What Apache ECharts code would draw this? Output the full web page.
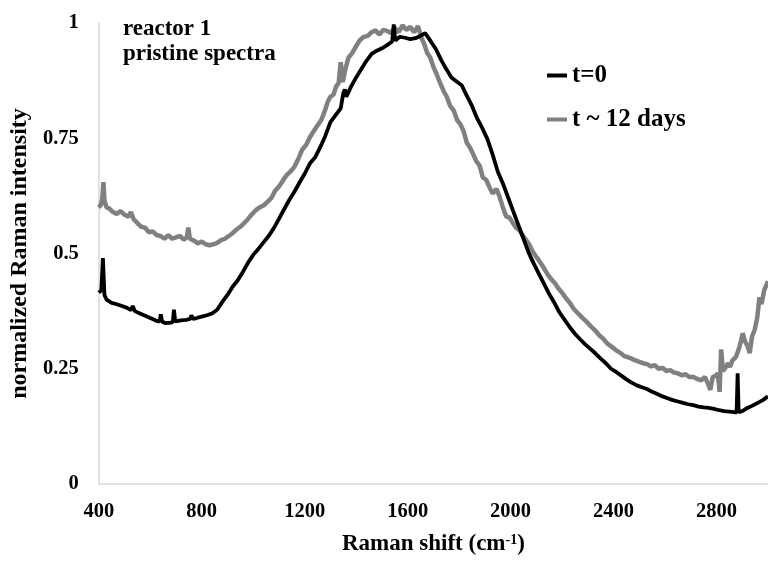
<!DOCTYPE html>
<html>
<head>
<meta charset="utf-8">
<script src="https://cdn.jsdelivr.net/npm/echarts@6/dist/echarts.min.js"></script>
<style>
html,body{margin:0;padding:0;background:#fff;}
#chart{width:768px;height:561px;}
</style>
</head>
<body>
<div id="chart"></div>
<script>
// ---- data ----
var seriesNames = ['t=0', 't ~ 12 days'];
var xTicks = [400, 800, 1200, 1600, 2000, 2400, 2800];
var yTicks = [0, 0.25, 0.5, 0.75, 1];

var t0Shift = [400,410,416,422,430,450,470,490,510,525,532,540,560,580,600,620,636,641,646,660,680,688,692,697,720,740,755,760,766,780,800,820,840,860,880,900,920,940,960,980,1000,1020,1040,1060,1080,1100,1120,1140,1160,1180,1200,1220,1240,1260,1280,1300,1320,1340,1350,1356,1362,1380,1400,1420,1440,1460,1480,1500,1520,1540,1546,1552,1570,1590,1610,1630,1650,1668,1690,1710,1730,1750,1770,1790,1810,1830,1850,1870,1890,1910,1930,1950,1970,1990,2010,2030,2050,2070,2090,2110,2130,2150,2170,2190,2210,2230,2250,2270,2290,2310,2330,2350,2370,2390,2410,2430,2450,2470,2490,2510,2530,2550,2570,2590,2610,2630,2650,2670,2690,2710,2730,2750,2770,2790,2810,2830,2850,2870,2878,2882,2886,2900,2920,2940,2960,2980,3000];
var t0Int = [0.415,0.42,0.49,0.41,0.40,0.393,0.39,0.386,0.382,0.377,0.386,0.375,0.37,0.365,0.36,0.355,0.352,0.368,0.352,0.349,0.35,0.352,0.378,0.353,0.355,0.356,0.358,0.366,0.358,0.36,0.363,0.366,0.37,0.378,0.395,0.41,0.428,0.442,0.46,0.48,0.497,0.51,0.524,0.538,0.555,0.575,0.596,0.616,0.634,0.654,0.673,0.695,0.708,0.73,0.755,0.785,0.80,0.815,0.848,0.856,0.84,0.862,0.882,0.90,0.918,0.933,0.94,0.945,0.952,0.96,0.997,0.962,0.97,0.968,0.965,0.967,0.972,0.978,0.96,0.943,0.92,0.90,0.882,0.873,0.865,0.842,0.82,0.793,0.772,0.748,0.715,0.678,0.652,0.622,0.592,0.562,0.532,0.502,0.478,0.456,0.434,0.412,0.393,0.372,0.356,0.34,0.326,0.314,0.303,0.293,0.283,0.272,0.262,0.25,0.243,0.235,0.227,0.22,0.214,0.21,0.206,0.20,0.195,0.19,0.186,0.182,0.179,0.176,0.173,0.171,0.168,0.166,0.165,0.163,0.16,0.158,0.157,0.156,0.155,0.24,0.156,0.158,0.165,0.17,0.176,0.182,0.19];

var t12Shift = [400,408,414,418,422,430,440,455,470,485,500,515,525,535,550,565,580,595,610,625,640,655,670,685,700,715,730,742,748,754,770,785,800,815,830,845,860,875,890,905,920,935,950,965,980,995,1010,1025,1040,1055,1070,1085,1100,1115,1130,1145,1160,1175,1190,1205,1220,1235,1250,1265,1280,1290,1300,1312,1322,1332,1340,1348,1358,1370,1385,1400,1415,1430,1445,1460,1475,1490,1505,1520,1535,1550,1565,1580,1595,1610,1625,1640,1652,1664,1676,1688,1700,1712,1726,1740,1752,1765,1779,1792,1805,1817,1830,1842,1855,1867,1880,1892,1905,1917,1930,1945,1956,1970,1983,1996,2010,2021,2035,2048,2059,2072,2085,2097,2110,2122,2135,2147,2160,2173,2186,2201,2215,2230,2245,2262,2280,2295,2310,2327,2345,2360,2375,2392,2410,2425,2440,2455,2470,2485,2500,2515,2530,2546,2560,2575,2590,2605,2620,2634,2650,2665,2680,2695,2711,2725,2740,2755,2765,2776,2785,2797,2805,2812,2818,2825,2838,2845,2852,2862,2875,2885,2895,2902,2910,2920,2929,2938,2948,2958,2967,2975,2985,3000];
var t12Int = [0.60,0.605,0.62,0.655,0.615,0.60,0.598,0.59,0.586,0.592,0.584,0.58,0.59,0.575,0.566,0.558,0.556,0.546,0.548,0.54,0.538,0.532,0.54,0.532,0.535,0.538,0.53,0.535,0.556,0.532,0.528,0.522,0.526,0.52,0.518,0.52,0.523,0.529,0.532,0.538,0.544,0.552,0.558,0.566,0.575,0.585,0.594,0.60,0.604,0.612,0.62,0.636,0.645,0.658,0.67,0.678,0.688,0.705,0.725,0.735,0.752,0.765,0.778,0.79,0.812,0.83,0.84,0.845,0.862,0.87,0.915,0.872,0.90,0.925,0.935,0.95,0.963,0.97,0.972,0.98,0.984,0.975,0.985,0.983,0.978,0.99,0.98,0.995,0.985,0.992,0.98,0.993,0.97,0.955,0.935,0.925,0.905,0.89,0.87,0.852,0.84,0.82,0.81,0.79,0.78,0.766,0.74,0.73,0.715,0.70,0.69,0.665,0.66,0.645,0.63,0.64,0.625,0.60,0.58,0.578,0.565,0.556,0.55,0.538,0.53,0.52,0.505,0.495,0.485,0.475,0.463,0.452,0.443,0.435,0.424,0.414,0.403,0.393,0.38,0.37,0.36,0.352,0.343,0.334,0.322,0.315,0.305,0.298,0.29,0.285,0.278,0.275,0.272,0.268,0.265,0.262,0.26,0.255,0.258,0.25,0.252,0.245,0.247,0.242,0.24,0.236,0.238,0.232,0.232,0.228,0.225,0.232,0.22,0.204,0.232,0.235,0.24,0.20,0.292,0.245,0.255,0.262,0.254,0.268,0.275,0.29,0.31,0.327,0.31,0.30,0.284,0.32,0.334,0.36,0.405,0.39,0.42,0.44];

function pairs(xs, ys){ return xs.map(function(x,i){ return [x, ys[i]]; }); }

var FONT = '"Liberation Serif", "DejaVu Serif", serif';
var chart = echarts.init(document.getElementById('chart'), null, {renderer:'canvas'});
chart.setOption({
  animation: false,
  backgroundColor: '#ffffff',
  grid: { left: 97, top: 23, width: 678.5, height: 461, containLabel: false },
  xAxis: {
    type: 'value', min: 400, max: 3000, interval: 400,
    name: 'Raman shift (cm{sup|-1})',
    nameLocation: 'middle', nameGap: 49,
    nameTextStyle: {
      fontFamily: FONT, fontWeight: 'bold', fontSize: 23, color: '#000',
      rich: { sup: { fontFamily: FONT, fontWeight: 'bold', fontSize: 14, verticalAlign: 'top', color: '#000' } }
    },
    axisLine: { show: true, lineStyle: { color: '#d9d9d9', width: 1.5 } },
    axisTick: { show: false },
    splitLine: { show: false },
    axisLabel: {
      margin: 17, fontFamily: FONT, fontWeight: 'bold', fontSize: 20.5, color: '#000',
      showMaxLabel: false,
      formatter: function(v){ return xTicks.indexOf(v) >= 0 ? String(v) : ''; }
    }
  },
  yAxis: {
    type: 'value', min: 0, max: 1, interval: 0.25,
    name: 'normalized Raman intensity',
    nameLocation: 'middle', nameGap: 61,
    nameTextStyle: { fontFamily: FONT, fontWeight: 'bold', fontSize: 24, color: '#000' },
    axisLine: { show: true, lineStyle: { color: '#d9d9d9', width: 1.5 } },
    axisTick: { show: false },
    splitLine: { show: false },
    axisLabel: {
      margin: 20, fontFamily: FONT, fontWeight: 'bold', fontSize: 20.5, color: '#000',
      formatter: function(v){ return yTicks.indexOf(v) >= 0 ? String(v) : ''; }
    }
  },
  legend: {
    orient: 'vertical', left: 547, top: 62, padding: 0,
    data: seriesNames,
    icon: 'rect', itemWidth: 20, itemHeight: 4, itemGap: 17,
    textStyle: { fontFamily: FONT, fontWeight: 'bold', fontSize: 25, lineHeight: 27, color: '#000' }
  },
  graphic: [
    { type: 'text', left: 123, top: 18, style: { text: 'reactor 1', font: 'bold 23px ' + FONT, fill: '#000' } },
    { type: 'text', left: 123, top: 43, style: { text: 'pristine spectra', font: 'bold 23px ' + FONT, fill: '#000' } }
  ],
  series: [
    {
      name: seriesNames[1], type: 'line', showSymbol: false, symbol: 'none',
      data: pairs(t12Shift, t12Int),
      lineStyle: { color: '#808080', width: 4.5 }, itemStyle: { color: '#808080' },
      z: 2
    },
    {
      name: seriesNames[0], type: 'line', showSymbol: false, symbol: 'none',
      data: pairs(t0Shift, t0Int),
      lineStyle: { color: '#000000', width: 3.8 }, itemStyle: { color: '#000000' },
      z: 3
    }
  ]
});
</script>
</body>
</html>
